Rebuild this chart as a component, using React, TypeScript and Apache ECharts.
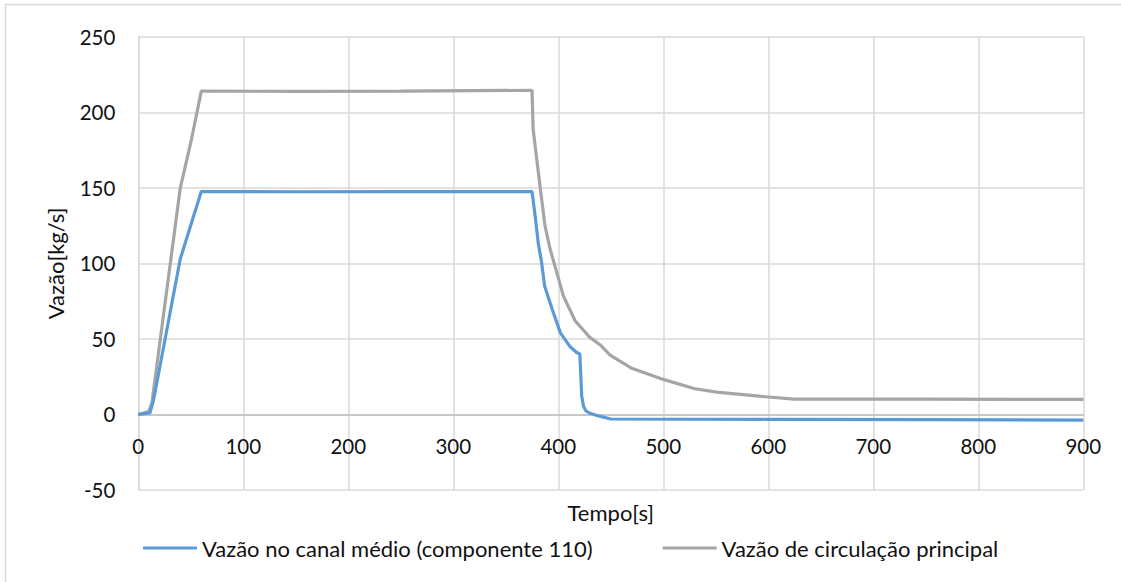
import React, { useEffect, useRef } from "react";
import * as echarts from "echarts";

const xTicks = [0, 100, 200, 300, 400, 500, 600, 700, 800, 900];
const yTicks = [-50, 0, 50, 100, 150, 200, 250];

const seriesNames = [
  "Vazão no canal médio (componente 110)",
  "Vazão de circulação principal",
];

// Vazão no canal médio (componente 110): [tempo s, vazão kg/s]
const canalMedio: [number, number][] = [
  [0, 0], [11, 1], [14, 8], [16, 15], [40, 103], [49, 123], [60, 147.5],
  [150, 147.4], [250, 147.5], [375, 147.5], [378, 131], [381, 113], [384, 101],
  [387, 85], [394, 70], [402, 54], [411, 45], [417.5, 41], [420.5, 40],
  [421.5, 25], [422.3, 12], [424, 5.5], [426, 2.5], [430, 0.8], [440, -1.3],
  [450, -3], [600, -3.2], [750, -3.4], [900, -3.8],
];

// Vazão de circulação principal: [tempo s, vazão kg/s]
const circulacao: [number, number][] = [
  [0, 0], [10, 2], [13, 8], [40, 150], [50, 180], [60, 214],
  [150, 213.8], [250, 214], [375, 214.5], [376, 189], [382.6, 151],
  [387.3, 125], [392, 110], [398.5, 94], [404.8, 78.5], [416, 62],
  [430, 51], [440, 46], [449, 39.5], [470, 30.5], [500, 23.2], [530, 17],
  [551, 14.8], [598, 11.7], [624, 10.2], [750, 10.1], [900, 10],
];

const FONT = "Lato";
const TXT = "#111111";

const GRID_TOP = 36.7;
const GRID_BOTTOM = 92;
const CHART_H = 582;

export default function App() {
  const ref = useRef<HTMLDivElement>(null);
  useEffect(() => {
    document.body.style.margin = "0";
    const chart = echarts.init(ref.current!, undefined, { renderer: "svg" });
    const plotH = CHART_H - GRID_TOP - GRID_BOTTOM;
    const yMin = yTicks[0];
    const yMax = yTicks[yTicks.length - 1];
    // move the horizontal axis (line + labels) up to the value 0, as in the original
    const zeroOffset = -plotH * ((0 - yMin) / (yMax - yMin));
    chart.setOption({
      animation: false,
      backgroundColor: "#ffffff",
      textStyle: { fontFamily: FONT },
      graphic: [
        {
          type: "rect",
          shape: { x: 5.5, y: 4.5, width: 1300, height: 800 },
          style: { fill: "none", stroke: "#d9d9d9", lineWidth: 1.5 },
          silent: true,
          z: -10,
        },
      ],
      grid: {
        left: 138.3,
        right: 37.7,
        top: GRID_TOP,
        bottom: GRID_BOTTOM,
        containLabel: false,
        outerBoundsMode: "none",
      },
      legend: {
        left: 138,
        top: 532,
        itemWidth: 54,
        itemHeight: 3,
        itemGap: 70,
        icon: "rect",
        textStyle: { fontFamily: FONT, fontSize: 22, color: TXT },
        data: seriesNames,
      },
      xAxis: {
        type: "value",
        min: xTicks[0],
        max: xTicks[xTicks.length - 1],
        interval: 100,
        offset: zeroOffset,
        name: "Tempo[s]",
        nameLocation: "middle",
        nameGap: 87,
        nameTextStyle: { fontFamily: FONT, fontSize: 22, color: TXT },
        axisLine: { onZero: false, lineStyle: { color: "#bfbfbf", width: 1.5 } },
        axisTick: { show: false },
        axisLabel: { fontFamily: FONT, fontSize: 20.5, color: TXT, margin: 21 },
        splitLine: { show: true, lineStyle: { color: "#d9d9d9", width: 1.5 } },
      },
      yAxis: {
        type: "value",
        min: yMin,
        max: yMax,
        interval: 50,
        name: "Vazão[kg/s]",
        nameLocation: "middle",
        nameGap: 72,
        nameTextStyle: { fontFamily: FONT, fontSize: 22, color: TXT },
        axisLine: { show: true, lineStyle: { color: "#d9d9d9", width: 1.5 } },
        axisTick: { show: false },
        axisLabel: { fontFamily: FONT, fontSize: 20.5, color: TXT, margin: 23 },
        splitLine: { show: true, lineStyle: { color: "#d9d9d9", width: 1.5 } },
      },
      series: [
        {
          name: seriesNames[0],
          type: "line",
          data: canalMedio,
          showSymbol: false,
          symbol: "none",
          lineStyle: { color: "#5b9bd5", width: 3.2 },
          itemStyle: { color: "#5b9bd5" },
          z: 3,
        },
        {
          name: seriesNames[1],
          type: "line",
          data: circulacao,
          showSymbol: false,
          symbol: "none",
          lineStyle: { color: "#a5a5a5", width: 3.2 },
          itemStyle: { color: "#a5a5a5" },
          z: 2,
        },
      ],
    });
    return () => chart.dispose();
  }, []);
  return (
    <div
      ref={ref}
      style={{ position: "absolute", left: 0, top: 0, width: 1121, height: 582 }}
    />
  );
}
